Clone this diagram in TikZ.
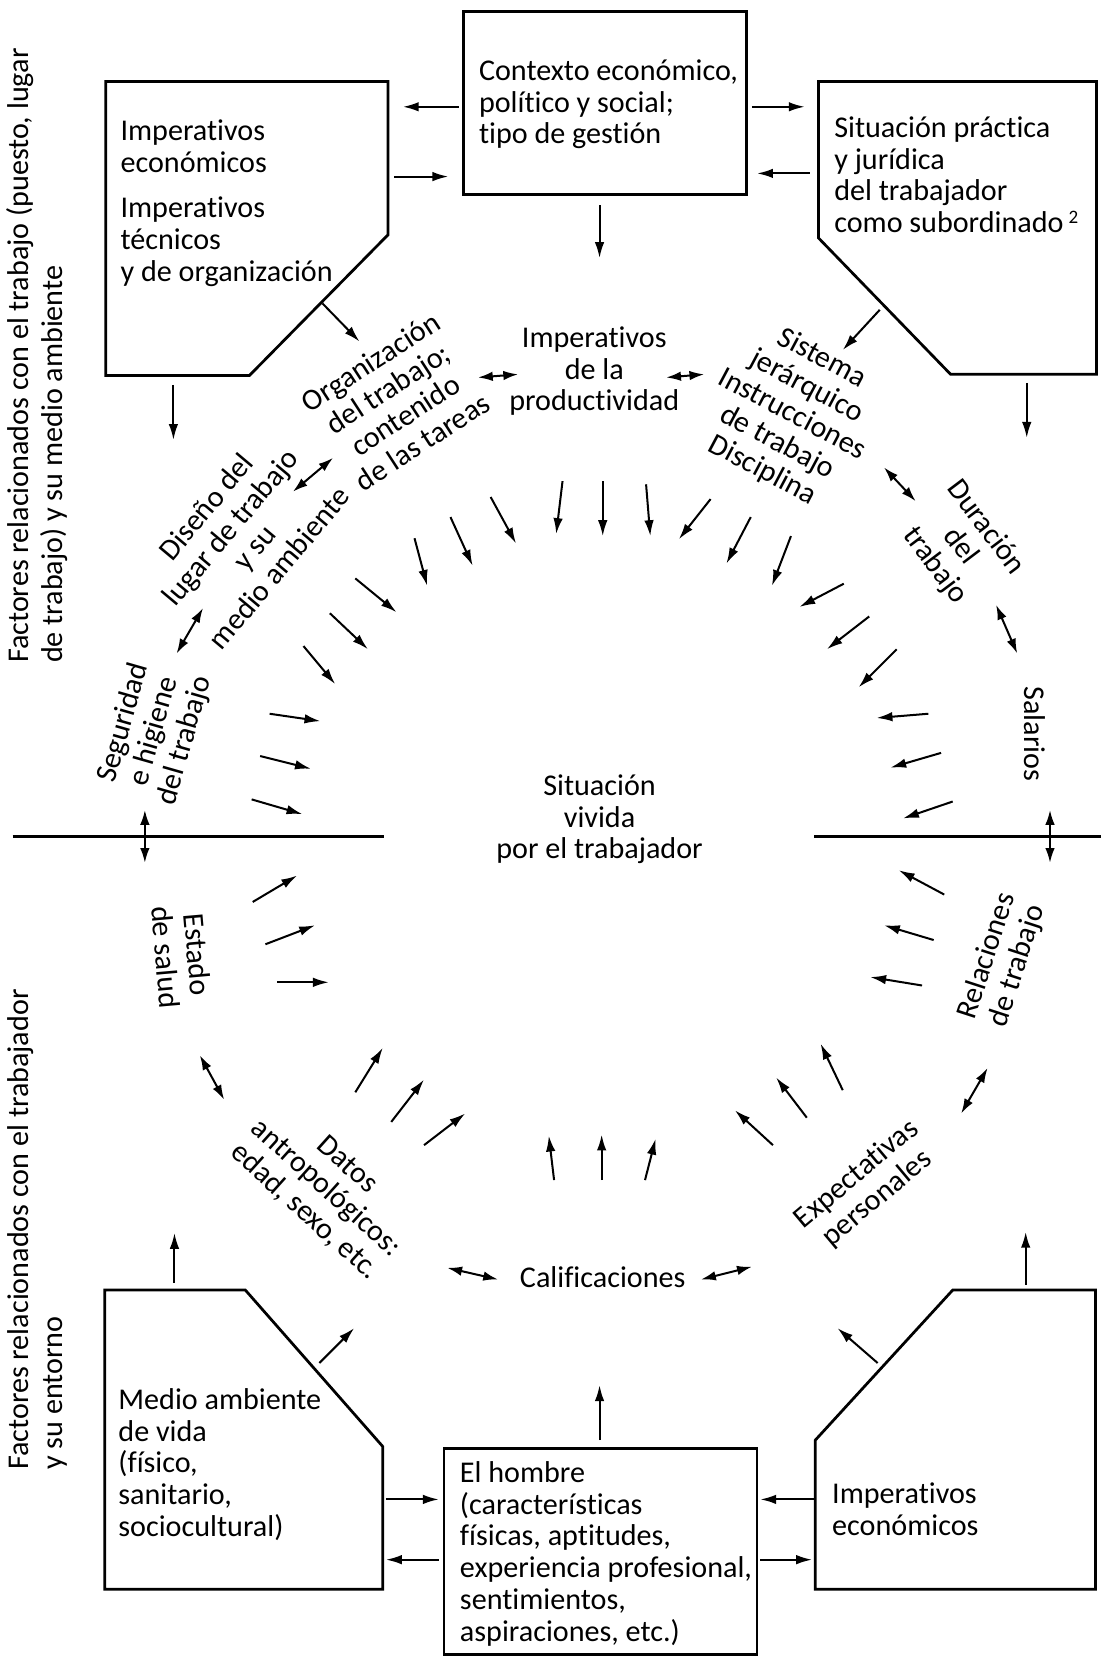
\documentclass[tikz,border=0pt]{standalone}
\usepackage{fontspec}
\setmainfont{Carlito}[Ligatures={NoCommon,NoRequired,NoContextual}]
\usetikzlibrary{arrows.meta}

\begin{document}
\begin{tikzpicture}[x=1pt,y=-1pt,
  every node/.style={font=\fontsize{28.5}{30}\selectfont, inner sep=0pt, outer sep=0pt},
  box/.style={line width=2.6pt, line join=miter},
  sep/.style={line width=3.2pt},
  arr/.style={line width=1.9pt, -{Latex[length=15pt,width=9pt]}},
  darr/.style={line width=1.9pt, {Latex[length=14pt,width=9pt]}-{Latex[length=14pt,width=9pt]}},
  boxtext/.style={align=left, anchor=base west},
  lbl/.style={align=center}
]
\useasboundingbox (0,0) rectangle (1041,1568);

% ---------- upper boxes ----------
\draw[box] (100,77) -- (367,77) -- (367,222) -- (236,355) -- (100,355) -- cycle;
\draw[box] (438,11) rectangle (706,184);
\draw[box] (774,77) -- (1037,77) -- (1037,354) -- (899,354) -- (774,225) -- cycle;

% multi-line box texts are placed by the baseline of their last line
\node[boxtext] (tlA) at (114,163) {Imperativos\\económicos};
\node[boxtext] (tlB) at (114,266) {Imperativos\\técnicos\\y de organización};
\node[boxtext] (ctx) at (453,136) {Contexto económico,\\político y social;\\tipo de gestión};
\node[boxtext] (trb) at (789,220) {Situación práctica\\y jurídica\\del trabajador\\como subordinado\,\raisebox{0.6ex}{\fontsize{18}{18}\selectfont 2}};

% ---------- lower boxes ----------
\draw[box] (99,1220) -- (232,1220) -- (362,1368) -- (362,1503) -- (99,1503) -- cycle;
\draw[box] (420,1370) rectangle (716,1565);
\draw[box] (901,1220) -- (1036,1220) -- (1036,1503) -- (771,1503) -- (771,1362) -- cycle;

\node[boxtext] (blb) at (112,1453) {Medio ambiente\\de vida\\(físico,\\sanitario,\\sociocultural)};
\node[boxtext] (man) at (435,1552) {El hombre\\(características\\físicas, aptitudes,\\experiencia profesional,\\sentimientos,\\aspiraciones, etc.)};
\node[boxtext] (brb) at (787,1452) {Imperativos\\económicos};

% ---------- side headings ----------
\node[rotate=90, anchor=base west] (sideTopA) at (27,627) {Factores relacionados con el trabajo (puesto, lugar};
\node[rotate=90, anchor=base west] (sideTopB) at (59,627) {de trabajo) y su medio ambiente};
\node[rotate=90, anchor=base west] (sideBotA) at (27,1390) {Factores relacionados con el trabajador};
\node[rotate=90, anchor=base west] (sideBotB) at (59,1390) {y su entorno};

% ---------- centre and surrounding factors ----------
\node[lbl] (centre) at (567,775) {Situación\\vivida\\por el trabajador};
\node[lbl] (prod) at (562,351) {Imperativos\\de la\\productividad};
\node[lbl, rotate=33] (org) at (375,380) {Organización\\del trabajo;\\contenido\\de las tareas};
\node[lbl, rotate=-28] (sist) at (749,392) {Sistema\\jerárquico\\Instrucciones\\de trabajo\\Disciplina};
\node[lbl, rotate=50] (dis) at (229,508) {Diseño del\\lugar de trabajo\\y su\\medio ambiente};
\node[lbl, rotate=74] (seg) at (146,692) {Seguridad\\e higiene\\del trabajo};
\node[lbl, rotate=-53] (dur) at (908,517) {Duración\\del\\trabajo};
\node[lbl, rotate=-90] (sal) at (979,694) {Salarios};
\node[lbl, rotate=-85] (est) at (172,904) {Estado\\de salud};
\node[lbl, rotate=-42] (dat) at (308,1124) {Datos\\antropológicos:\\edad, sexo, etc.};
\node[lbl] (cal) at (570,1208) {Calificaciones};
\node[lbl, rotate=40] (exp) at (820,1122) {Expectativas\\personales};
\node[lbl, rotate=72] (rel) at (948,909) {Relaciones\\de trabajo};

% ---------- dividing lines ----------
\coordinate (lineLa) at (12,791);  \coordinate (lineLb) at (363,791);
\coordinate (lineRa) at (770,791); \coordinate (lineRb) at (1041,791);
\draw[sep] (lineLa) -- (lineLb);
\draw[sep] (lineRa) -- (lineRb);

% ---------- arrows between boxes ----------
\foreach \n/\ax/\ay/\bx/\by in {
  b1/434/101/381/101, b2/373/167/424/167, b3/711/101/761/101, b4/766/164/716/164,
  b5/567/194/567/244, b6/305/287/340/323, b7/832/293/797/331, b8/164/364/164/416,
  b9/971/362/971/414,
  c1/165/1213/165/1166, c2/302/1289/335/1256, c3/567/1362/567/1310, c4/830/1289/792/1256,
  c5/970/1215/970/1165, c6/365/1418/415/1418, c7/415/1475/365/1475, c8/770/1418/719/1418,
  c9/719/1475/768/1475}{
  \coordinate (\n s) at (\ax,\ay);
  \coordinate (\n e) at (\bx,\by);
  \draw[arr] (\n s) -- (\n e);
}

% ---------- two-way arrows between factors ----------
\foreach \n/\ax/\ay/\bx/\by in {
  d1/452/357/490/354, d2/630/357/666/354, d3/277/465/315/433, d4/836/442/866/474,
  d5/167/618/192/575, d6/942/572/962/618, d7/137/766/137/816, d8/993/766/993/816,
  d9/189/998/212/1040, d10/423/1199/471/1210, d11/663/1210/711/1198, d12/909/1053/934/1010}{
  \coordinate (\n s) at (\ax,\ay);
  \coordinate (\n e) at (\bx,\by);
  \draw[darr] (\n s) -- (\n e);
}

% ---------- ring of arrows converging on the centre ----------
\foreach \n/\ax/\ay/\bx/\by in {
  a/287/611/317/647, b/312/580/348/614, c/336/547/375/579,
  d/392/509/404/554, e/426/489/447/535, f/464/470/488/514,
  g/532/455/526/505, h/570/455/570/507, i/611/458/615/507,
  j/672/472/642/510, k/710/489/687/533, l/748/507/730/554,
  m/798/552/756/574, n/822/583/782/614, o/848/614/812/650,
  p/878/675/829/679, q/890/712/842/726, r/901/758/854/774,
  s/893/846/850/823, t/883/889/836/875, u/872/932/823/924,
  v/797/1031/776/987, w/763/1057/734/1019, x/731/1083/695/1050,
  y/524/1116/519/1074, z/569/1116/569/1073, aa/610/1116/620/1077,
  ab/336/1033/362/991, ac/370/1061/401/1021, ad/401/1083/440/1053,
  ae/255/675/303/682, af/246/715/294/727, ag/238/756/286/770,
  ah/239/853/281/828, ai/251/893/298/875, aj/262/929/311/929}{
  \coordinate (ring\n s) at (\ax,\ay);
  \coordinate (ring\n e) at (\bx,\by);
  \draw[arr] (ring\n s) -- (ring\n e);
}
\end{tikzpicture}
\end{document}
